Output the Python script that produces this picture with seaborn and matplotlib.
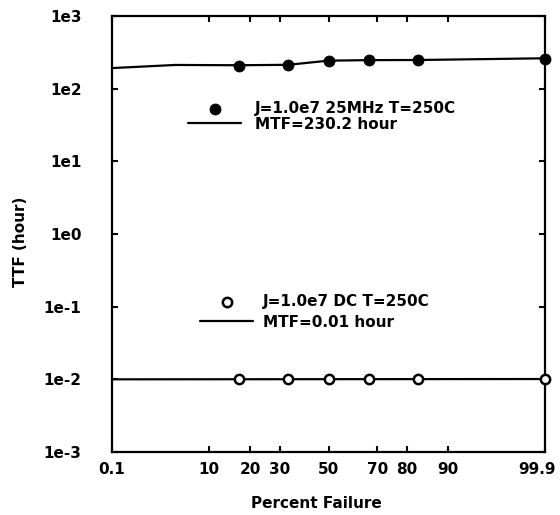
import numpy as np
import seaborn as sns
import matplotlib.pyplot as plt
from matplotlib.ticker import FixedLocator, FixedFormatter, NullLocator
from matplotlib.transforms import ScaledTranslation
from statistics import NormalDist

# percent failure (median ranks) and time to failure in hours
ac_pct = [16.7, 33.3, 50.0, 66.7, 83.3, 99.9]
ac_ttf = [207, 212, 243, 248, 248, 257]
ac_fit_pct = [0.1, 5.0, 16.7, 33.3, 50.0, 66.7, 83.3, 99.9]
ac_fit_ttf = [192, 212, 210, 213, 243, 247, 248, 262]

dc_pct = [16.7, 33.3, 50.0, 66.7, 83.3, 99.9]
dc_ttf = [0.0101, 0.0101, 0.0101, 0.0101, 0.0101, 0.0102]
dc_fit_pct = [0.1, 99.9]
dc_fit_ttf = [0.0100, 0.0101]

x_ticks = [0.1, 10, 20, 30, 50, 70, 80, 90, 99.9]
x_tick_labels = ["0.1", "10", "20", "30", "50", "70", "80", "90", "99.9"]
y_ticks = [1e-3, 1e-2, 1e-1, 1e0, 1e1, 1e2, 1e3]
y_tick_labels = ["1e-3", "1e-2", "1e-1", "1e0", "1e1", "1e2", "1e3"]

ac_label = "J=1.0e7 25MHz T=250C"
ac_fit_label = "MTF=230.2 hour"
dc_label = "J=1.0e7 DC T=250C"
dc_fit_label = "MTF=0.01 hour"

sns.set_style("ticks")
plt.rcParams["font.family"] = ["DejaVu Sans"]
plt.rcParams["font.weight"] = "bold"
plt.rcParams["axes.labelweight"] = "bold"
plt.rcParams["text.color"] = "black"
plt.rcParams["axes.labelcolor"] = "black"

# normal probability paper, ends pinned to the outer grid lines
nd = NormalDist()


def _ppf(v):
    if not np.isfinite(v):
        return np.nan
    return nd.inv_cdf(min(max(v, 1.0), 99.0) / 100.0)


def _cdf(z):
    if not np.isfinite(z):
        return np.nan
    return nd.cdf(z) * 100.0


prob_fwd = np.vectorize(_ppf, otypes=[float])
prob_inv = np.vectorize(_cdf, otypes=[float])

fig = plt.figure(figsize=(5.6, 5.15), dpi=100)
ax = fig.add_axes([112 / 560, 1 - 452 / 515, 433 / 560, 436 / 515])
ax.set_xscale("function", functions=(prob_fwd, prob_inv))
ax.set_yscale("log")

sns.lineplot(x=ac_fit_pct, y=ac_fit_ttf, color="black", lw=1.6,
             estimator=None, sort=False, ax=ax)
ln_ac = ax.lines[-1]
sns.lineplot(x=dc_fit_pct, y=dc_fit_ttf, color="black", lw=1.6,
             estimator=None, sort=False, ax=ax)
ln_dc = ax.lines[-1]

sns.scatterplot(x=ac_pct, y=ac_ttf, color="black", edgecolor="black",
                s=62, zorder=3, ax=ax)
sc_ac = ax.collections[-1]
sns.scatterplot(x=dc_pct, y=dc_ttf, facecolor="white", edgecolor="black",
                linewidth=1.8, s=45, zorder=3, ax=ax)
sc_dc = ax.collections[-1]
for c in (sc_ac, sc_dc):
    c.set_clip_on(False)

ax.set_xlim(0.1, 99.9)
ax.set_ylim(1e-3, 1e3)
ax.xaxis.set_major_locator(FixedLocator(x_ticks))
ax.xaxis.set_major_formatter(FixedFormatter(x_tick_labels))
ax.xaxis.set_minor_locator(NullLocator())
ax.yaxis.set_major_locator(FixedLocator(y_ticks))
ax.yaxis.set_major_formatter(FixedFormatter(y_tick_labels))
ax.yaxis.set_minor_locator(NullLocator())

for s in ax.spines.values():
    s.set_color("black")
    s.set_linewidth(1.6)
ax.tick_params(direction="in", length=4, width=1.5, top=True, right=True,
               labelsize=11, colors="black")
ax.tick_params(axis="x", pad=7)
ax.tick_params(axis="y", pad=22)

# keep the last label inside the figure
fig.canvas.draw()
last = ax.get_xticklabels()[-1]
last.set_transform(last.get_transform() + ScaledTranslation(-8 / 100, 0, fig.dpi_scale_trans))

ax.set_xlabel("Percent Failure", fontsize=11)
ax.set_ylabel("TTF (hour)", fontsize=11)
ax.xaxis.set_label_coords(0.473, -0.101)
ax.yaxis.set_label_coords(-0.194, 0.482)

leg_kw = dict(loc="upper left", frameon=False, borderpad=0, borderaxespad=0,
              scatterpoints=1, handlelength=3.5,
              prop=dict(weight="bold", size=11))
leg1 = ax.legend([sc_ac, ln_ac], [ac_label, ac_fit_label],
                 bbox_to_anchor=(0.1755, 0.805), handletextpad=0.9,
                 labelspacing=0.05, **leg_kw)
ax.add_artist(leg1)
ax.legend([sc_dc, ln_dc], [dc_label, dc_fit_label],
          bbox_to_anchor=(0.203, 0.362), handletextpad=0.6,
          labelspacing=0.35, **leg_kw)

plt.savefig("out.png", dpi=100)
